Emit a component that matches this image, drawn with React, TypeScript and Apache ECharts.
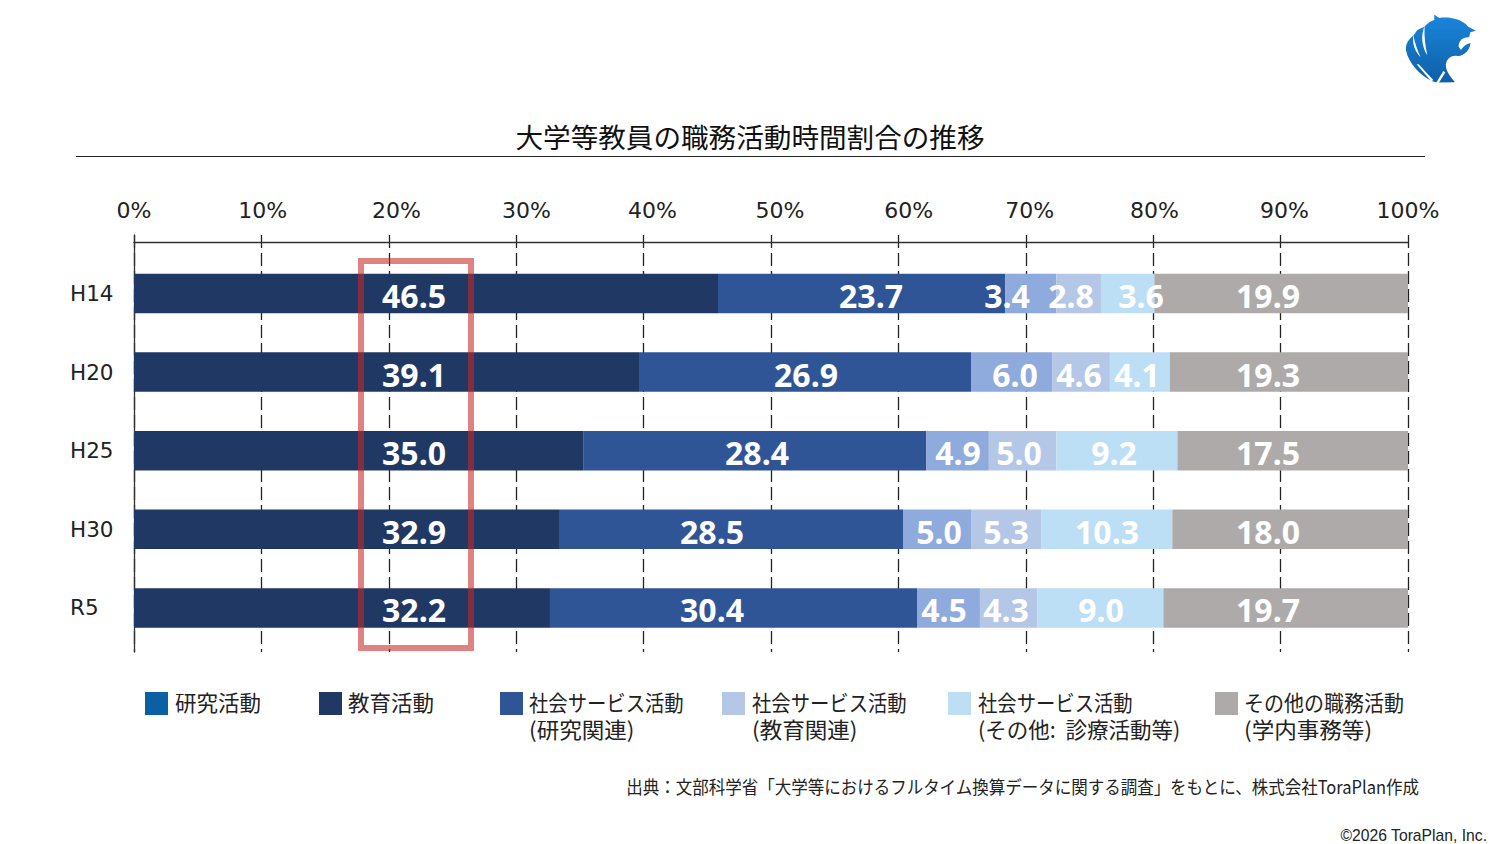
import React, { useEffect, useRef } from "react";
import * as echarts from "echarts";

const categories = ["H14", "H20", "H25", "H30", "R5"];
const tickLabels = ["0%", "10%", "20%", "30%", "40%", "50%", "60%", "70%", "80%", "90%", "100%"];
const title = "大学等教員の職務活動時間割合の推移";
const sourceNote = "出典：文部科学省「大学等におけるフルタイム換算データに関する調査」をもとに、株式会社ToraPlan作成";
const copyright = "©2026 ToraPlan, Inc.";

const seriesNames = [
  "研究活動",
  "教育活動",
  "社会サービス活動(研究関連)",
  "社会サービス活動(教育関連)",
  "社会サービス活動(その他: 診療活動等)",
  "その他の職務活動(学内事務等)",
];

// Segment lengths as drawn in the picture (percent axis)
const researchDrawn = [45.84, 39.64, 35.3, 33.36, 32.65];
const educationDrawn = [22.56, 26.06, 26.9, 27.04, 28.85];
const socialResearchDrawn = [4.0, 6.4, 4.9, 5.3, 4.9];
const socialEducationDrawn = [3.5, 4.5, 5.3, 5.5, 4.5];
const socialOtherDrawn = [4.2, 4.7, 9.5, 10.3, 9.9];
const otherDrawn = [19.9, 18.7, 18.1, 18.5, 19.2];

// Values as printed on the bars
const researchPrinted = ["46.5", "39.1", "35.0", "32.9", "32.2"];
const educationPrinted = ["23.7", "26.9", "28.4", "28.5", "30.4"];
const socialResearchPrinted = ["3.4", "6.0", "4.9", "5.0", "4.5"];
const socialEducationPrinted = ["2.8", "4.6", "5.0", "5.3", "4.3"];
const socialOtherPrinted = ["3.6", "4.1", "9.2", "10.3", "9.0"];
const otherPrinted = ["19.9", "19.3", "17.5", "18.0", "19.7"];

const drawn = [researchDrawn, educationDrawn, socialResearchDrawn, socialEducationDrawn, socialOtherDrawn, otherDrawn];
const printed = [researchPrinted, educationPrinted, socialResearchPrinted, socialEducationPrinted, socialOtherPrinted, otherPrinted];

// Layout
const PLOT_LEFT = 134;
const PLOT_WIDTH = 1274;
const PX_PER_PCT = PLOT_WIDTH / 100;
const JP = '"Noto Sans CJK JP", "Noto Sans", sans-serif';
const LATIN = '"DejaVu Sans", "Noto Sans CJK JP", sans-serif';
const barColors = ["#1F3864", "#2F5597", "#8FAADC", "#B4C7E7", "#BDDFF5", "#AEAAAA"];
const swatchColors = ["#0B5FA5", "#1F3864", "#2F5597", "#B4C7E7", "#BDDFF5", "#AEAAAA"];
const labelCentres = [
  [414, 414, 414, 414, 414],
  [871, 806, 757, 712, 712],
  [1007, 1015, 958, 939, 944],
  [1071, 1079, 1019, 1006, 1006],
  [1141, 1137, 1114, 1107, 1101],
  [1268, 1268, 1268, 1268, 1268],
];
const tickLabelAnchors = [0, 10.1, 20.6, 30.8, 40.7, 50.7, 60.8, 70.3, 80.1, 90.3, 100];
const legendLayout = [
  { swatchX: 145, textX: 175, lines: ["研究活動"], scales: [1] },
  { swatchX: 319, textX: 348, lines: ["教育活動"], scales: [1] },
  { swatchX: 500, textX: 529, lines: ["社会サービス活動", "(研究関連)"], scales: [0.9, 1.05] },
  { swatchX: 722, textX: 752, lines: ["社会サービス活動", "(教育関連)"], scales: [0.9, 1.05] },
  { swatchX: 948, textX: 978, lines: ["社会サービス活動", "(その他:  診療活動等)"], scales: [0.9, 1] },
  { swatchX: 1215, textX: 1244, lines: ["その他の職務活動", "(学内事務等)"], scales: [0.93, 1.05] },
];

const LOGO_D =
  "M163 44 L178 54 C205 50 245 56 265 80 L288 92 L271 97 L268 112 C250 110 236 122 236 140 L243 150 C250 140 262 130 272 130 C270 150 252 170 232 168 C212 165 196 180 198 200 C200 218 215 235 225 247 L170 248 L155 243 C120 225 85 190 78 150 C76 130 88 115 100 107 L112 90 L133 80 C145 68 155 62 163 60 Z";
const LOGO_CUTS_D =
  "M100 105 C96 130 105 155 122 172 C112 150 105 130 100 105 Z " +
  "M134 78 C122 105 125 140 142 166 C136 135 132 110 134 78 Z " +
  "M110 193 L154 245 L160 240 L116 193 Z " +
  "M190 213 L168 250 L176 250 L196 218 Z";

export default function App() {
  const ref = useRef<HTMLDivElement>(null);
  useEffect(() => {
    if (!ref.current) return;
    echarts.graphic.registerShape("logo", echarts.graphic.extendPath(LOGO_D, {}) as any);
    echarts.graphic.registerShape("logoCuts", echarts.graphic.extendPath(LOGO_CUTS_D, {}) as any);
    const chart = echarts.init(ref.current, undefined, { renderer: "svg" });

    const series = drawn.map((values, s) => ({
      name: seriesNames[s],
      type: "bar",
      stack: "share",
      xAxisIndex: 1,
      yAxisIndex: 1,
      barWidth: 39.5,
      itemStyle: { color: barColors[s] },
      label: {
        show: true,
        position: "inside",
        color: "#fff",
        fontFamily: '"Noto Sans", sans-serif',
        fontWeight: "bold",
        fontSize: 32,
      },
      data: values.map((v, c) => {
        let start = 0;
        for (let k = 0; k < s; k++) start += drawn[k][c];
        const centre = PLOT_LEFT + (start + v / 2) * PX_PER_PCT;
        return {
          value: v,
          label: {
            formatter: printed[s][c],
            offset: [labelCentres[s][c] - centre, 2],
          },
        };
      }),
    }));

    const legendGraphics: any[] = [];
    legendLayout.forEach((l, i) => {
      legendGraphics.push({
        type: "rect",
        shape: { x: l.swatchX, y: 692, width: 23, height: 23 },
        style: { fill: swatchColors[i] },
      });
      l.lines.forEach((line, j) => {
        legendGraphics.push({
          type: "text",
          x: l.textX,
          y: 701.5 + j * 27,
          scaleX: l.scales[j],
          style: {
            text: line,
            fontFamily: JP,
            fontSize: 21.5,
            fill: "#222",
            textVerticalAlign: "middle",
            verticalAlign: "middle",
          },
        });
      });
    });

    chart.setOption({
      animation: false,
      backgroundColor: "#fff",
      grid: [
        { left: PLOT_LEFT, width: PLOT_WIDTH, top: 235, height: 417 },
        { left: PLOT_LEFT, width: PLOT_WIDTH, top: 254.2, height: 393 },
      ],
      xAxis: [
        {
          gridIndex: 0,
          type: "value",
          position: "top",
          offset: -7,
          min: 0,
          max: 100,
          interval: 10,
          axisLine: { show: true, onZero: false, lineStyle: { color: "#333", width: 1.3 } },
          axisTick: { show: false },
          splitLine: { show: true, lineStyle: { color: "#222", width: 1.3, type: [13, 5] } },
          axisLabel: {
            show: true,
            margin: 21,
            fontFamily: LATIN,
            fontSize: 22,
            color: "#222",
            customValues: tickLabelAnchors,
            formatter: (v: number) => tickLabels[tickLabelAnchors.indexOf(v)] ?? "",
          },
        },
        {
          gridIndex: 1,
          type: "value",
          min: 0,
          max: 100,
          interval: 10,
          show: false,
        },
      ],
      yAxis: [
        {
          gridIndex: 0,
          type: "value",
          min: 0,
          max: 1,
          axisLine: { show: true, onZero: false, lineStyle: { color: "#333", width: 1.3 } },
          axisTick: { show: false },
          axisLabel: { show: false },
          splitLine: { show: false },
        },
        {
          gridIndex: 1,
          type: "category",
          inverse: true,
          data: categories,
          axisLine: { show: false },
          axisTick: { show: false },
          axisLabel: {
            margin: 64,
            align: "left",
            fontFamily: LATIN,
            fontSize: 21.5,
            color: "#222",
          },
        },
      ],
      series,
      graphic: [
        {
          type: "text",
          x: 750,
          y: 136,
          style: {
            text: title,
            fontFamily: JP,
            fontSize: 27.6,
            fill: "#111",
            textAlign: "center",
            textVerticalAlign: "middle",
            verticalAlign: "middle",
          },
        },
        {
          type: "line",
          shape: { x1: 76, y1: 156.5, x2: 1425, y2: 156.5 },
          style: { stroke: "#222", lineWidth: 1 },
        },
        {
          type: "rect",
          z: 50,
          shape: { x: 361, y: 261, width: 110, height: 387 },
          style: { fill: "none", stroke: "rgba(200,40,40,0.58)", lineWidth: 6 },
        },
        ...legendGraphics,
        {
          type: "text",
          x: 1419,
          y: 786,
          scaleX: 0.917,
          style: {
            text: sourceNote,
            fontFamily: JP,
            fontSize: 18,
            fill: "#222",
            textAlign: "right",
            textVerticalAlign: "middle",
            verticalAlign: "middle",
          },
        },
        {
          type: "text",
          x: 1487,
          y: 835,
          style: {
            text: copyright,
            fontFamily: '"Liberation Sans", Arial, sans-serif',
            fontSize: 15.7,
            fill: "#222",
            textAlign: "right",
            textVerticalAlign: "middle",
            verticalAlign: "middle",
          },
        },
        {
          type: "logo",
          x: 1380,
          y: 0,
          scaleX: 1 / 3,
          scaleY: 1 / 3,
          style: {
            fill: new echarts.graphic.LinearGradient(0, 0, 0, 1, [
              { offset: 0, color: "#1A86DC" },
              { offset: 1, color: "#0F5FA8" },
            ]),
          },
        },
        {
          type: "logoCuts",
          x: 1380,
          y: 0,
          scaleX: 1 / 3,
          scaleY: 1 / 3,
          z: 2,
          style: { fill: "#fff" },
        },
      ],
    });
    return () => chart.dispose();
  }, []);
  return <div ref={ref} style={{ position: "fixed", left: 0, top: 0, width: 1500, height: 844 }} />;
}
